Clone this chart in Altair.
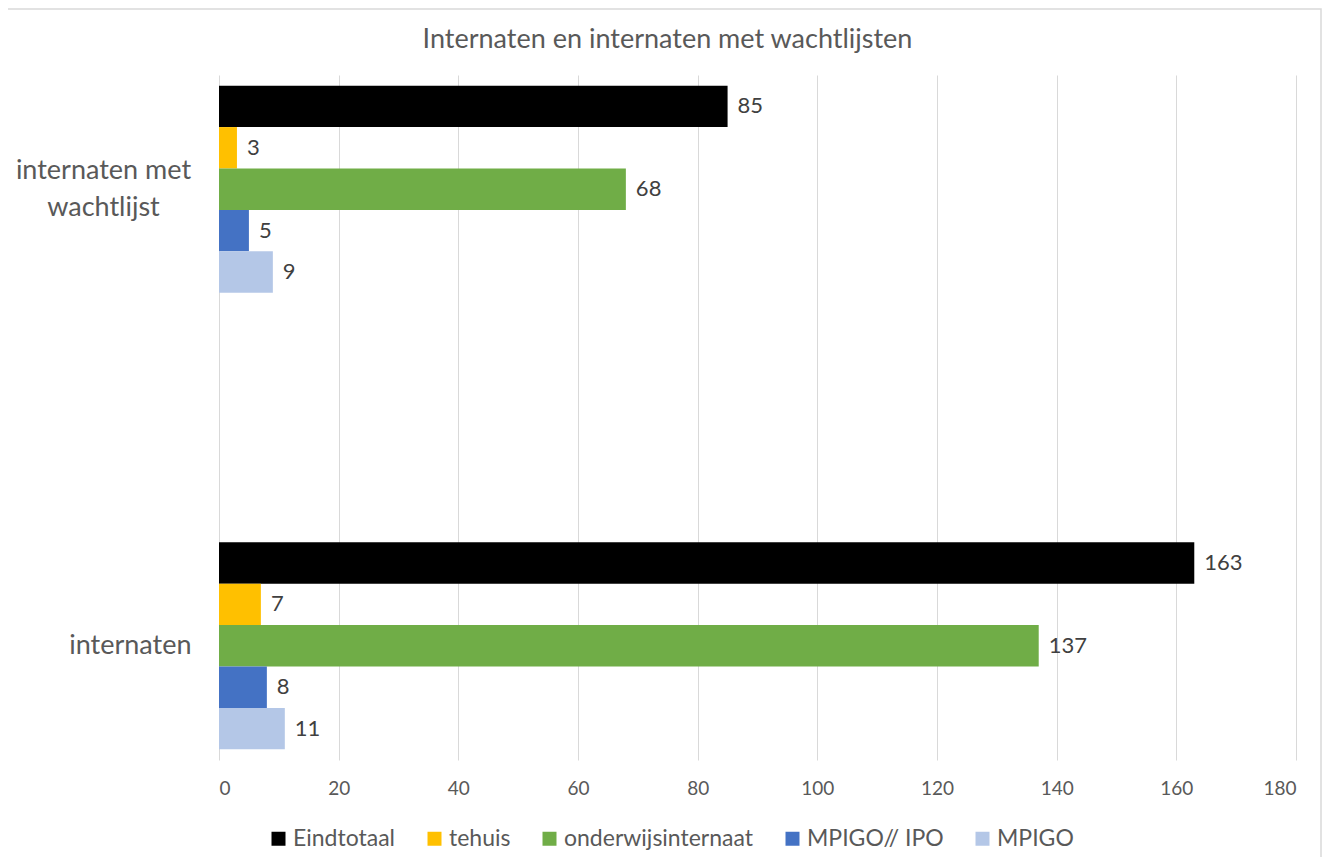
import altair as alt
import pandas as pd

categories = ["internaten met wachtlijst", "internaten"]
series = ["Eindtotaal", "tehuis", "onderwijsinternaat", "MPIGO// IPO", "MPIGO"]
values = {
    "Eindtotaal": [85, 163],
    "tehuis": [3, 7],
    "onderwijsinternaat": [68, 137],
    "MPIGO// IPO": [5, 8],
    "MPIGO": [9, 11],
}
colors = ["#000000", "#FFC000", "#70AD47", "#4472C4", "#B4C7E7"]
x_ticks = [0, 20, 40, 60, 80, 100, 120, 140, 160, 180]

rows = []
for s in series:
    for c, v in zip(categories, values[s]):
        rows.append({"categorie": c, "reeks": s, "waarde": v})
df = pd.DataFrame(rows)

FONT = "Lato"
TXT = "#595959"
MULTI = "datum.value == 'internaten met wachtlijst'"

y_enc = alt.Y(
    "categorie:N",
    sort=categories,
    scale=alt.Scale(paddingInner=0.5467, paddingOuter=0.0234),
    axis=alt.Axis(
        title=None, ticks=False, domain=False, grid=False,
        labelFontSize=27, labelColor=TXT, labelFont=FONT,
        labelLimit=400, labelLineHeight=37,
        labelAlign={"condition": {"test": MULTI, "value": "center"}, "value": "right"},
        labelPadding={"condition": {"test": MULTI, "value": 116}, "value": 28},
        labelOffset={"condition": {"test": MULTI, "value": -18}, "value": 0},
        labelExpr="datum.value == 'internaten met wachtlijst' ? ['internaten met', 'wachtlijst'] : datum.value",
    ),
)
yoff_enc = alt.YOffset("reeks:N", sort=series, scale=alt.Scale(paddingInner=0, paddingOuter=0))
x_enc = alt.X(
    "waarde:Q",
    scale=alt.Scale(domain=[0, 180], nice=False),
    axis=alt.Axis(
        title=None, values=x_ticks, ticks=False, tickSize=0, domain=False,
        grid=True, gridColor="#D9D9D9", gridWidth=1,
        labelFontSize=19, labelColor=TXT, labelFont=FONT, labelPadding=19,
    ),
)

base = alt.Chart(df)

bars = base.mark_bar().encode(
    x=x_enc,
    y=y_enc,
    yOffset=yoff_enc,
    color=alt.Color(
        "reeks:N",
        sort=series,
        scale=alt.Scale(domain=series, range=colors),
        legend=alt.Legend(
            title=None, orient="none", legendX=48, legendY=752,
            direction="horizontal", symbolType="square", symbolSize=196,
            symbolStrokeWidth=0, labelFontSize=23, labelColor=TXT, labelFont=FONT,
            labelOffset=3, columnPadding=27, padding=0, labelLimit=400,
        ),
    ),
)

labels = base.mark_text(
    align="left", baseline="middle", dx=10, fontSize=22, font=FONT, color="#404040"
).encode(
    x=alt.X("waarde:Q"),
    y=alt.Y("categorie:N", sort=categories),
    yOffset=alt.YOffset("reeks:N", sort=series),
    text=alt.Text("waarde:Q"),
)

border = alt.Chart(pd.DataFrame({"k": [0]})).mark_rect(
    fill="transparent", stroke="#D9D9D9", strokeWidth=1.5
).encode(
    x=alt.value(-212), x2=alt.value(1102), y=alt.value(-66), y2=alt.value(820)
)

chart = alt.layer(border, bars, labels).properties(
    width=1077,
    height=685,
    title=alt.TitleParams(
        "Internaten en internaten met wachtlijsten",
        fontSize=27, font=FONT, color=TXT, fontWeight="normal",
        anchor="middle", dx=-90, offset=-46,
    ),
    autosize=alt.AutoSizeParams(type="none"),
    padding={"left": 211, "top": 67, "right": 26, "bottom": 97},
).configure_view(stroke=None)

chart.save("out.html", embed_options={"renderer": "svg", "actions": False})
